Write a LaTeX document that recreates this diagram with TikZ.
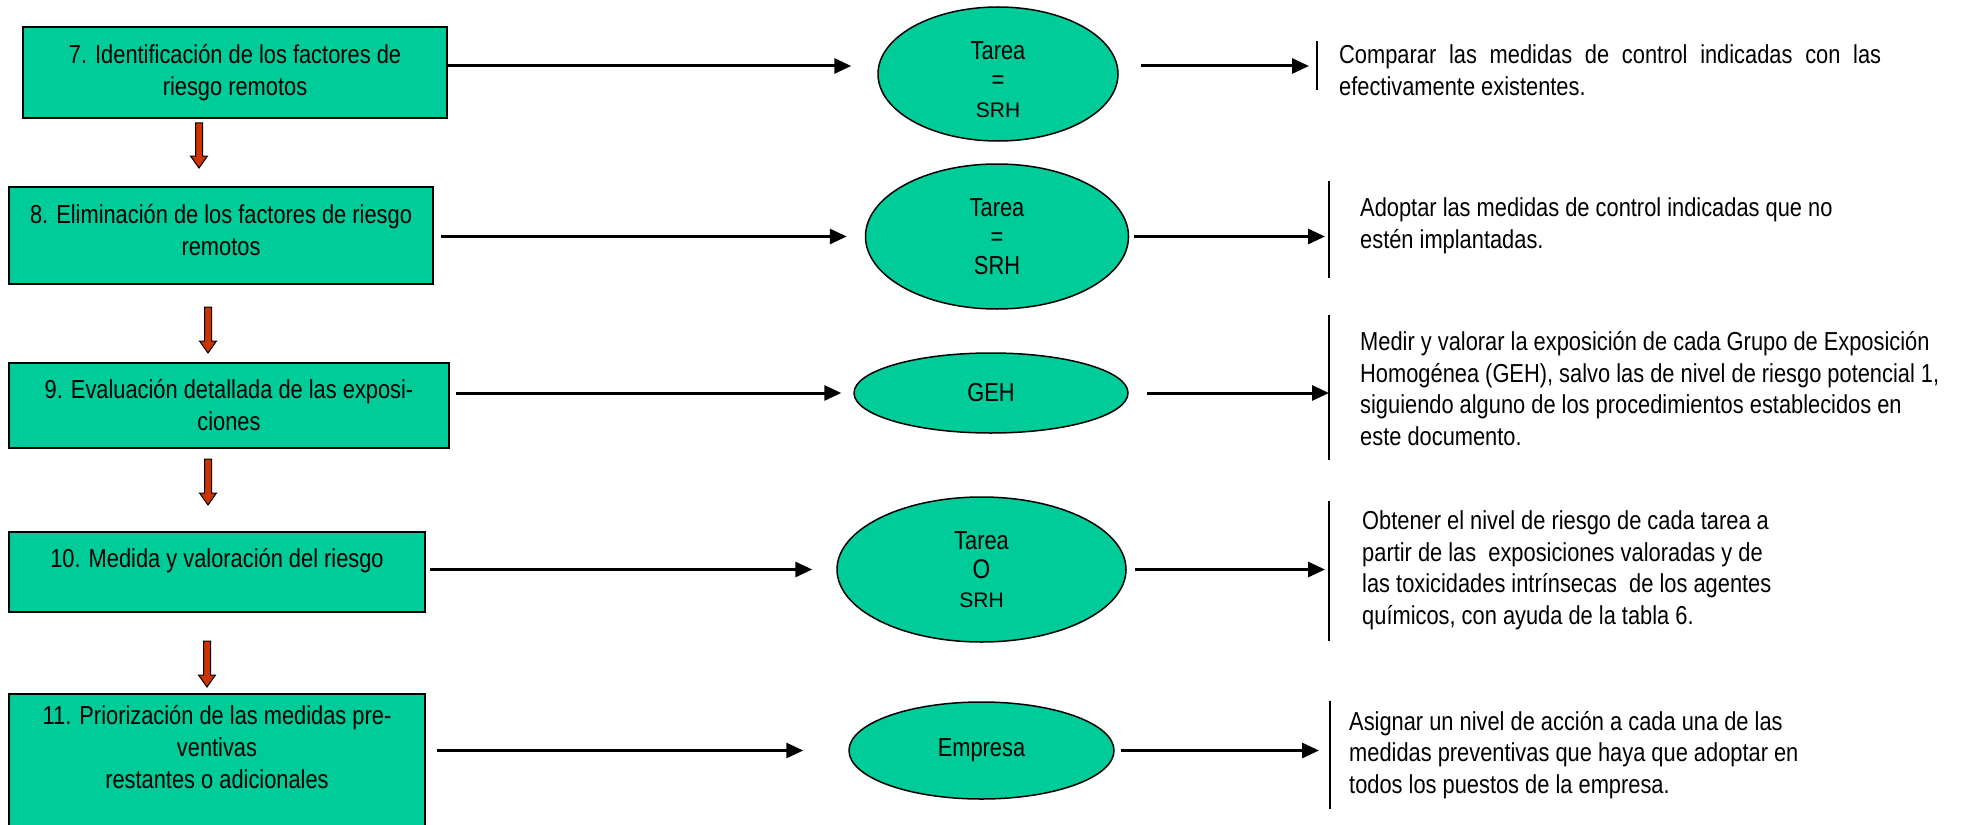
\documentclass[tikz,border=0pt]{standalone}
\usepackage{fontspec}
\setmainfont[FakeStretch=0.84]{Liberation Sans}
\newfontfamily\ancha{Liberation Sans}
\usetikzlibrary{arrows.meta,shapes.geometric}
\definecolor{verde}{RGB}{0,204,153}
\definecolor{rojo}{RGB}{204,51,0}

\begin{document}
\begin{tikzpicture}[x=1pt,y=-1pt]
        \tikzstyle{caja}=[draw,fill=verde,line width=2pt,inner sep=0pt,align=center,font=\fontsize{26}{32}\selectfont]
        \tikzstyle{elipse}=[draw,ellipse,fill=verde,line width=1.5pt,inner sep=0pt,align=center,font=\fontsize{26}{29}\selectfont]
        \tikzstyle{flecha}=[line width=3pt,-{Triangle[length=17pt,width=15pt]}]
        \tikzstyle{barra}=[line width=2pt]
        \tikzstyle{texto}=[anchor=west,inner sep=0pt,align=left,font=\fontsize{26}{31.5}\selectfont]
        \tikzstyle{flecharoja}=[fill=rojo,draw=black,line width=1pt]
        \useasboundingbox (0,0) rectangle (1961,824);
        \clip (0,0) rectangle (1961,824);
        %pasos
        \node[caja,minimum width=424pt,minimum height=91pt] (b7) at (235,72.5) {7. Identificación de los factores de\\riesgo remotos};
        \node[caja,minimum width=424pt,minimum height=97pt,text depth=12pt] (b8) at (221,235.5) {8. Eliminación de los factores de riesgo\\remotos};
        \node[caja,minimum width=440pt,minimum height=85pt] (b9) at (229,405.5) {9. Evaluación detallada de las exposi-\\ciones};
        \node[caja,minimum width=416pt,minimum height=80pt,text depth=28pt] (b10) at (217,572) {10. Medida y valoración del riesgo};
        \node[caja,minimum width=416pt,minimum height=147pt] (b11) at (217,767.5) {11. Priorización de las medidas pre-\\ventivas\\restantes o adicionales\\\strut};
        %flechas rojas
        \filldraw[flecharoja] (195.5,123) -- ++(0,33) -- ++(-5,0) -- ++(8.5,12) -- ++(8.5,-12) -- ++(-5,0) -- ++(0,-33) -- cycle;
        \filldraw[flecharoja] (204.5,307) -- ++(0,34) -- ++(-5,0) -- ++(8.5,12) -- ++(8.5,-12) -- ++(-5,0) -- ++(0,-34) -- cycle;
        \filldraw[flecharoja] (204.5,459) -- ++(0,34) -- ++(-5,0) -- ++(8.5,12) -- ++(8.5,-12) -- ++(-5,0) -- ++(0,-34) -- cycle;
        \filldraw[flecharoja] (203.5,641) -- ++(0,34) -- ++(-5,0) -- ++(8.5,12) -- ++(8.5,-12) -- ++(-5,0) -- ++(0,-34) -- cycle;
        %responsables
        \node[elipse,minimum width=240pt,minimum height=134pt,text height=88pt] (e7) at (998,74) {Tarea\\=\\{\ancha\fontsize{21}{21}\selectfont SRH}};
        \node[elipse,minimum width=263pt,minimum height=145pt] (e8) at (997,236.5) {Tarea\\=\\SRH};
        \node[elipse,minimum width=274pt,minimum height=80pt] (e9) at (991,393) {GEH};
        \node[elipse,minimum width=289pt,minimum height=145pt] (e10) at (981.5,569.5) {Tarea\\{\fontsize{27}{27}\selectfont O}\\{\ancha\fontsize{21}{21}\selectfont SRH}};
        \node[elipse,minimum width=265pt,minimum height=97pt] (e11) at (981.5,750.5) {Empresa};
        \coordinate (a7) at ([yshift=8pt]e7.west);
        \coordinate (c7) at ([yshift=8pt]e7.east);
        %barras
        \coordinate (r7a) at (1317,41);
        \coordinate (r7b) at (1317,90);
        \coordinate (r8a) at (1329,181);
        \coordinate (r8b) at (1329,278);
        \coordinate (r9a) at (1329,315);
        \coordinate (r9b) at (1329,460);
        \coordinate (r10a) at (1329,501);
        \coordinate (r10b) at (1329,641);
        \coordinate (r11a) at (1330,701);
        \coordinate (r11b) at (1330,809);
        \draw[barra] (r7a)--(r7b)
        (r8a)--(r8b)
        (r9a)--(r9b)
        (r10a)--(r10b)
        (r11a)--(r11b);
        %acciones
        \node[texto] (t7) at (1339,70) {\makebox[542pt][s]{Comparar las medidas de control indicadas con las}\\efectivamente existentes.};
        \node[texto] (t8) at (1360,226) {Adoptar las medidas de control indicadas que no\\estén implantadas.};
        \node[texto] (t9) at (1360,388.5) {Medir y valorar la exposición de cada Grupo de Exposición\\Homogénea (GEH), salvo las de nivel de riesgo potencial 1,\\siguiendo alguno de los procedimientos establecidos en\\este documento.};
        \node[texto] (t10) at (1362,570.5) {Obtener el nivel de riesgo de cada tarea a\\partir de las\ \ exposiciones valoradas y de\\las toxicidades intrínsecas\ \ de los agentes\\químicos, con ayuda de la tabla 6.};
        \node[texto] (t11) at (1349,755) {Asignar un nivel de acción a cada una de las\\medidas preventivas que haya que adoptar en\\todos los puestos de la empresa.};
        %conectores
        \draw[flecha,shorten >=26pt] (b7.east |- a7) -- (a7);
        \draw[flecha,shorten <=7pt,shorten >=18pt] (b8.east |- e8.west) -- (e8.west);
        \draw[flecha,shorten <=6pt,shorten >=12pt] (b9.east |- e9.west) -- (e9.west);
        \draw[flecha,shorten <=4pt,shorten >=24pt] (b10.east |- e10.west) -- (e10.west);
        \draw[flecha,shorten <=11pt,shorten >=45pt] (b11.east |- e11.west) -- (e11.west);
        \draw[flecha,shorten <=22pt,shorten >=8pt] (c7) -- (c7 -| r7a);
        \draw[flecha,shorten <=5pt,shorten >=4pt] (e8.east) -- (e8.east -| r8a);
        \draw[flecha,shorten <=18pt] (e9.east) -- (e9.east -| r9a);
        \draw[flecha,shorten <=8pt,shorten >=4pt] (e10.east) -- (e10.east -| r10a);
        \draw[flecha,shorten <=6pt,shorten >=11pt] (e11.east) -- (e11.east -| r11a);
    \end{tikzpicture}
\end{document}
